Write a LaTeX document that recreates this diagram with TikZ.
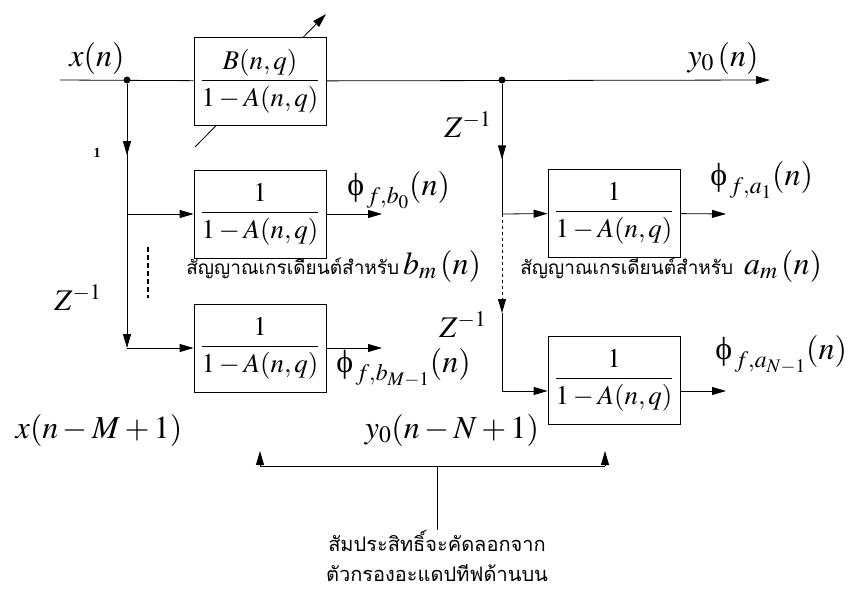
\documentclass[tikz,border=0pt]{standalone}
\usepackage{amsmath}
\usepackage{mathptmx}
\usepackage{fontspec}
\setmainfont{Liberation Serif}
\newfontfamily\thaifont[Script=Thai]{Loma}
\newfontfamily\grkfont{Liberation Serif}
\usetikzlibrary{arrows.meta,positioning,decorations.markings}

\newcommand{\lblsz}{\fontsize{32}{37}\selectfont}
\newcommand{\fracsz}{\fontsize{27}{32}\selectfont}
\newcommand{\thaisz}{\fontsize{20}{30}\selectfont}
\newcommand{\fph}{\mbox{\grkfont ϕ}}

\tikzset{
  >={Triangle[length=14pt,width=8pt]},
  filt/.style={draw, fill=white, minimum width=132pt, minimum height=88pt,
    inner sep=0pt, font=\fracsz},
  dot/.style={circle, fill, inner sep=0pt, minimum size=7pt},
  lbl/.style={inner sep=0pt, font=\lblsz},
  thai/.style={inner sep=0pt, font=\thaisz\thaifont},
  thaism/.style={inner sep=0pt, font=\fontsize{19}{26}\selectfont\thaifont},
  midtip/.style={decoration={markings,
    mark=at position #1 with {\arrow{>}}}, postaction={decorate}}
}

\begin{document}
\begin{tikzpicture}[x=1pt, y=-1pt, line width=0.8pt]
  \useasboundingbox (0,0) rectangle (854,592);

  % upper path
  \coordinate (in) at (60,80);
  \node[dot] (s1) at (127,80) {};
  \node[dot] (s2) at (502,80) {};
  \coordinate (out) at (770,80);
  \coordinate (adjA) at (195,147);
  \coordinate (adjB) at (326,14);
  \draw[->] (adjA) -- (adjB);
  \node[filt] (top) at (260,81) {$\dfrac{B(n,q)}{1-A(n,q)}$};
  \draw (in) -- (top);
  \draw[->] (top) -- (out);

  \node[lbl] (xn) at (97,58) {$x(n)$};
  \node[lbl] (y0n) at (723,58) {$y_0\,(n)$};

  % left gradient filters
  \node[filt] (b0) at (260,214) {$\dfrac{1}{1-A(n,q)}$};
  \node[filt] (bM) at (260,348) {$\dfrac{1}{1-A(n,q)}$};
  \coordinate (j1) at (127,214);
  \coordinate (j2) at (127,348);
  \coordinate (ob0) at (382,214);
  \coordinate (obM) at (382,348);

  \draw[midtip=0.27, ->] (s1) -- (j2);
  \draw[->] (j1) -- (b0);
  \draw[->] (j2) -- (bM);
  \draw[->] (b0) -- (ob0);
  \draw[->] (bM) -- (obM);

  \coordinate (dtA) at (148,247);
  \coordinate (dtB) at (148,298);
  \draw[line width=2.5pt, dash pattern=on 5pt off 3pt] (dtA) -- (dtB);

  \node[inner sep=0pt, font=\bfseries\fontsize{14}{16}\selectfont] (one) at (97,153) {1};
  \node[lbl, font=\fontsize{30}{34}\selectfont] (zl) at (78,298) {$Z^{-1}$};
  \node[lbl, anchor=west] (phb0) at (347,190) {$\fph_{\,f,b_0}(n)$};
  \node[lbl, anchor=west] (phbM) at (336,368) {$\fph_{\,f,b_{M-1}}(n)$};
  \node[thaism, anchor=west] (gb) at (186,268) {สัญญาณเกรเดียนต์สำหรับ};
  \node[lbl, right=3pt of gb, yshift=2pt] (bm) {$b_m\,(n)$};
  \node[lbl] (xnm) at (99,430) {$x(n-M+1)$};

  % right gradient filters
  \node[filt] (a1) at (614,213) {$\dfrac{1}{1-A(n,q)}$};
  \node[filt] (aN) at (614,380) {$\dfrac{1}{1-A(n,q)}$};
  \coordinate (k1) at (502,214);
  \coordinate (kd) at (502,313);
  \coordinate (k2) at (502,391);
  \coordinate (oa1) at (726,214);
  \coordinate (oaN) at (726,391);

  \draw[midtip=0.58] (s2) -- (k1);
  \draw[dashed, ->] (k1) -- (kd);
  \draw (kd) -- (k2);
  \draw[->] (k1) -- (a1);
  \draw[->] (k2) -- (k2 -| aN.west);
  \draw[->] (a1) -- (oa1);
  \draw[->] (aN.east |- k2) -- (oaN);

  \node[lbl, font=\fontsize{30}{34}\selectfont] (zr1) at (468,125) {$Z^{-1}$};
  \node[lbl, font=\fontsize{30}{34}\selectfont] (zr2) at (463,325) {$Z^{-1}$};
  \node[lbl, anchor=west] (pha1) at (710,180) {$\fph_{\,f,a_1}(n)$};
  \node[lbl, anchor=west] (phaN) at (715,355) {$\fph_{\,f,a_{N-1}}(n)$};
  \node[thaism, anchor=west] (ga) at (520,268) {สัญญาณเกรเดียนต์สำหรับ};
  \node[lbl, right=10pt of ga, yshift=2pt] (am) {$a_m\,(n)$};
  \node[lbl] (ynm) at (452,430) {$y_0(n-N+1)$};

  % coefficient copy
  \coordinate (u1) at (260,466);
  \coordinate (u2) at (605,466);
  \coordinate (u1t) at (260,451);
  \coordinate (u2t) at (605,451);
  \coordinate (uc) at (437,466);
  \node[thai, align=center, anchor=north] (note) at (437,530)
    {สัมประสิทธิ์จะคัดลอกจาก\\ตัวกรองอะแดปทีฟด้านบน};
  \draw (u1) -- (u2);
  \draw[->] (u1) -- (u1t);
  \draw[->] (u2) -- (u2t);
  \draw (uc) -- (note);
\end{tikzpicture}
\end{document}
